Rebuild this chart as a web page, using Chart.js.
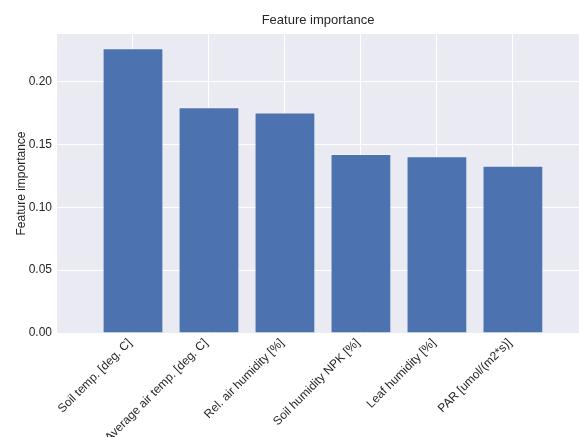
<!DOCTYPE html>
<html>
<head>
<meta charset="utf-8">
<script src="https://cdn.jsdelivr.net/npm/chart.js@4/dist/chart.umd.min.js"></script>
<style>
  html, body { margin: 0; padding: 0; background: #ffffff; }
  #wrap { width: 579px; height: 437px; position: relative; }
</style>
</head>
<body>
<div id="wrap"><canvas id="importance-chart"></canvas></div>
<script>
// Feature importance per input variable
const features = [
    'Soil temp. [deg. C]',
    'Average air temp. [deg. C]',
    'Rel. air humidity [%]',
    'Soil humidity NPK [%]',
    'Leaf humidity [%]',
    'PAR [umol/(m2*s)]'
];
const importance = [0.2266, 0.1796, 0.1756, 0.1424, 0.1406, 0.1331];
const yTicks = [0.00, 0.05, 0.10, 0.15, 0.20];

// plot background like a seaborn darkgrid axes
const plotBackground = {
    id: 'plotBackground',
    beforeDraw(chart) {
        const { ctx, chartArea: a } = chart;
        ctx.save();
        ctx.fillStyle = '#eaeaf2';
        ctx.fillRect(a.left, a.top, a.right - a.left, a.bottom - a.top);
        ctx.restore();
    }
};

const textColor = '#262626';
const fontFamily = "'Liberation Sans', Arial, sans-serif";

const ctx = document.getElementById('importance-chart').getContext('2d');
const importanceChart = new Chart(ctx, {
    type: 'bar',
    data: {
        datasets: [{
            label: 'Feature importance',
            data: importance.map((v, i) => ({ x: i, y: v })),
            backgroundColor: '#4c72b0',
            borderColor: 'rgba(255, 255, 255, 0.35)',
            borderWidth: 1,
            categoryPercentage: 0.8,
            barPercentage: 1.0
        }]
    },
    options: {
        responsive: true,
        maintainAspectRatio: false,
        animation: false,
        layout: { padding: 0 },
        plugins: {
            legend: { display: false },
            tooltip: { enabled: false },
            title: {
                display: true,
                fullSize: false,
                text: 'Feature importance',
                color: textColor,
                font: { family: fontFamily, size: 13, weight: 'normal' },
                padding: { top: 13, bottom: 5.4 }
            }
        },
        scales: {
            x: {
                type: 'linear',
                min: -1,
                max: 5.87,
                offset: false,
                grid: { color: '#ffffff', lineWidth: 1, offset: false, drawTicks: false },
                border: { display: false },
                afterBuildTicks: axis => {
                    axis.ticks = features.map((_, i) => ({ value: i }));
                },
                afterFit: scale => { scale.height = 437 - 333; },
                ticks: {
                    autoSkip: false,
                    minRotation: 45,
                    maxRotation: 45,
                    padding: 3,
                    labelOffset: -3,
                    color: textColor,
                    font: { family: fontFamily, size: 12 },
                    callback: value => features[value] ?? ''
                }
            },
            y: {
                min: 0,
                max: 0.238,
                grid: { color: '#ffffff', lineWidth: 1, drawTicks: false },
                border: { display: false },
                afterBuildTicks: axis => {
                    axis.ticks = yTicks.map(v => ({ value: v }));
                },
                afterFit: scale => { scale.width = 57; },
                title: {
                    display: true,
                    text: 'Feature importance',
                    color: textColor,
                    font: { family: fontFamily, size: 12 },
                    padding: { top: 14, bottom: 0 }
                },
                ticks: {
                    padding: 5,
                    color: textColor,
                    font: { family: fontFamily, size: 12 },
                    callback: value => value.toFixed(2)
                }
            }
        }
    },
    plugins: [plotBackground]
});
</script>
</body>
</html>
